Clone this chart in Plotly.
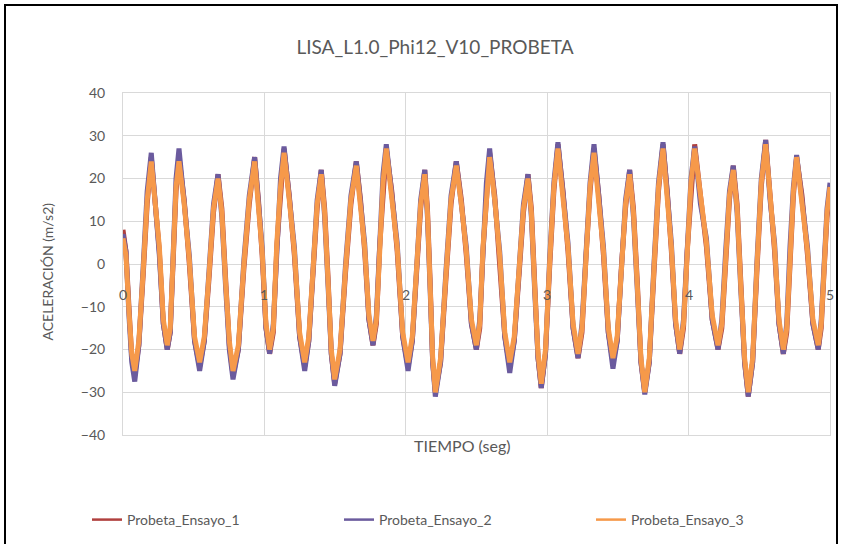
import plotly.graph_objects as go

titulo = "LISA_L1.0_Phi12_V10_PROBETA"
eje_x_titulo = "TIEMPO (seg)"
eje_y_titulo = "ACELERACIÓN (m/s2)"
series_nombres = ["Probeta_Ensayo_1", "Probeta_Ensayo_2", "Probeta_Ensayo_3"]
x_ticks = [0, 1, 2, 3, 4, 5]
x_tick_labels = ["0", "1", "2", "3", "4", "5"]
y_ticks = [-40, -30, -20, -10, 0, 10, 20, 30, 40]

tiempo = [
    0.000, 0.021, 0.042, 0.062, 0.083, 0.112, 0.142, 0.171,
    0.200, 0.228, 0.257, 0.285, 0.313, 0.334, 0.355, 0.375,
    0.396, 0.433, 0.469, 0.506, 0.542, 0.575, 0.607, 0.640,
    0.672, 0.699, 0.725, 0.752, 0.778, 0.816, 0.855, 0.893,
    0.931, 0.958, 0.984, 1.011, 1.037, 1.063, 1.088, 1.114,
    1.139, 1.176, 1.212, 1.249, 1.285, 1.314, 1.344, 1.373,
    1.402, 1.426, 1.450, 1.473, 1.497, 1.535, 1.574, 1.612,
    1.650, 1.680, 1.709, 1.739, 1.768, 1.792, 1.815, 1.839,
    1.862, 1.901, 1.939, 1.978, 2.016, 2.046, 2.075, 2.105,
    2.134, 2.153, 2.172, 2.190, 2.209, 2.246, 2.283, 2.320,
    2.357, 2.393, 2.428, 2.464, 2.499, 2.523, 2.546, 2.570,
    2.593, 2.629, 2.664, 2.700, 2.735, 2.767, 2.800, 2.832,
    2.864, 2.888, 2.911, 2.935, 2.958, 2.988, 3.017, 3.047,
    3.076, 3.112, 3.147, 3.183, 3.218, 3.246, 3.275, 3.303,
    3.331, 3.365, 3.398, 3.432, 3.465, 3.495, 3.524, 3.554,
    3.583, 3.610, 3.637, 3.663, 3.690, 3.722, 3.755, 3.787,
    3.819, 3.849, 3.878, 3.908, 3.937, 3.964, 3.990, 4.017,
    4.043, 4.084, 4.126, 4.167, 4.208, 4.235, 4.262, 4.289,
    4.316, 4.343, 4.369, 4.396, 4.422, 4.453, 4.484, 4.514,
    4.545, 4.576, 4.608, 4.639, 4.670, 4.694, 4.717, 4.741,
    4.764, 4.802, 4.841, 4.879, 4.917, 4.938, 4.959, 4.979,
    5.000,
]

ensayo_1 = [
    8, 3, -10, -22, -26, -19, -3, 14,
    25, 14, 3, -14, -20, -16, 3, 17,
    25, 15, 0, -18, -24, -18, -4, 12,
    21, 13, -3, -19, -26, -20, -1, 14,
    25, 15, 2, -15, -21, -16, 4, 17,
    27, 16, 2, -17, -24, -18, -3, 13,
    22, 13, -3, -21, -28, -21, -2, 14,
    24, 15, 3, -13, -19, -14, 4, 18,
    27, 17, 3, -17, -24, -18, -3, 13,
    22, 13, -4, -23, -30, -23, -4, 14,
    24, 15, 2, -14, -20, -15, 3, 16,
    26, 16, 1, -17, -24, -18, -3, 12,
    21, 13, -4, -22, -29, -21, -1, 17,
    28, 17, 3, -15, -22, -16, 2, 17,
    27, 16, 2, -16, -23, -18, -1, 13,
    22, 13, -4, -23, -30, -23, -2, 17,
    28, 17, 3, -14, -21, -15, 3, 18,
    28, 16, 4, -13, -20, -15, 1, 15,
    23, 14, -4, -23, -31, -23, -1, 18,
    29, 17, 3, -14, -21, -16, 2, 16,
    25, 16, 2, -14, -20, -15, -1, 11,
    17,
]

ensayo_2 = [
    7, 3, -12, -23, -27.5, -19, -1, 17,
    26, 15, 2, -14, -20, -16, 5, 20,
    27, 13, 2, -18, -25, -18, -2, 14,
    21, 11, -5, -20, -27, -20, 1, 16,
    25, 13, 4, -15, -21, -14, 6, 20,
    27.5, 14, 4, -17, -25, -18, -1, 15,
    22, 11, -5, -21, -28.5, -21, 0, 16,
    24, 13, 5, -13, -19, -12, 6, 21,
    28, 15, 5, -17, -25, -18, -1, 15,
    22, 11, -6, -23, -31, -23, -2, 16,
    24, 13, 4, -14, -20, -13, 5, 19,
    27, 14, 3, -17, -25.5, -18, -1, 14,
    21, 11, -6, -22, -29, -21, 1, 19,
    28.5, 15, 5, -15, -22, -14, 4, 19,
    28, 14, 4, -16, -24.5, -18, 1, 15,
    22, 11, -6, -23, -30.5, -23, 0, 19,
    28.5, 15, 5, -14, -21, -13, 5, 20,
    27.5, 14, 6, -13, -20, -13, 3, 17,
    23, 12, -6, -23, -31, -23, 1, 20,
    29, 15, 5, -14, -21, -14, 4, 18,
    25.5, 14, 4, -14, -20, -13, 1, 13,
    19,
]

ensayo_3 = [
    6, 2, -11, -21, -25, -18, -2, 15,
    24, 13, 4, -13, -19, -15, 4, 18,
    24, 14, 1, -17, -23, -17, -3, 13,
    20, 12, -4, -18, -25, -19, 0, 15,
    24, 14, 3, -14, -20, -15, 5, 18,
    26, 15, 3, -16, -23, -17, -2, 14,
    21, 12, -4, -20, -27, -20, -1, 15,
    23, 14, 4, -12, -18, -13, 5, 19,
    27, 16, 4, -16, -23, -17, -2, 14,
    21, 12, -5, -22, -30, -22, -3, 15,
    23, 14, 3, -13, -19, -14, 4, 17,
    25, 15, 2, -16, -23, -17, -2, 13,
    20, 12, -5, -21, -28, -20, 0, 18,
    27, 16, 4, -14, -21, -15, 3, 18,
    26, 15, 3, -15, -22, -17, 0, 14,
    21, 12, -5, -22, -30, -22, -1, 18,
    27, 16, 4, -13, -20, -14, 4, 19,
    27, 15, 5, -12, -19, -14, 2, 16,
    22, 13, -5, -22, -30, -22, 0, 19,
    28, 16, 4, -13, -20, -15, 3, 17,
    25, 15, 3, -13, -19, -14, 0, 12,
    18,
]

colores = ["#B0403E", "#6B5B9E", "#F6994A"]
valores = [ensayo_1, ensayo_2, ensayo_3]

fig = go.Figure()
for nombre, vals, col in zip(series_nombres, valores, colores):
    fig.add_trace(go.Scatter(
        x=tiempo, y=vals, mode="lines", name=nombre, legendgroup=nombre,
        showlegend=False, line=dict(color=col, width=5),
    ))
# legend-only entries with thinner sample lines (no data drawn)
for nombre, col in zip(series_nombres, colores):
    fig.add_trace(go.Scatter(
        x=[None], y=[None], mode="lines", name=nombre, legendgroup=nombre,
        showlegend=True, line=dict(color=col, width=2.5),
    ))

W, H = 843, 544
L, R, T, B = 123, 13, 93, 109
pw, ph = W - L - R, H - T - B

def px_x(p):
    return (p - L) / pw

def px_y(p):
    return (H - B - p) / ph

grid = "#D9D9D9"
txt = "#595959"
fuente = "Lato"

fig.update_layout(
    width=W, height=H,
    margin=dict(l=L, r=R, t=T, b=B, autoexpand=False),
    paper_bgcolor="white", plot_bgcolor="white",
    font=dict(family=fuente, color=txt, size=14),
    title=dict(text=titulo, x=435 / W, xanchor="center", y=1 - 47 / H,
               yanchor="middle", font=dict(size=19, color=txt, family=fuente)),
    showlegend=True,
    legend=dict(orientation="h", x=px_x(87), xanchor="left", y=px_y(520),
                yanchor="middle", entrywidth=207, entrywidthmode="pixels",
                bgcolor="rgba(0,0,0,0)",
                font=dict(size=14, color=txt), tracegroupgap=0),
    xaxis=dict(range=[0, 5], tickvals=x_ticks, showticklabels=False,
               showgrid=True, gridcolor=grid, gridwidth=1, zeroline=False,
               showline=True, linecolor=grid, mirror=True),
    yaxis=dict(range=[-40, 40], tickvals=y_ticks, showgrid=True,
               gridcolor=grid, gridwidth=1, zeroline=False,
               showline=True, linecolor=grid, mirror=True,
               ticks="outside", ticklen=14, tickcolor="rgba(0,0,0,0)",
               tickfont=dict(size=14, color=txt)),
)

annotations = []
for xv, lab in zip(x_ticks, x_tick_labels):
    annotations.append(dict(x=xv, y=0, xref="x", yref="y", text=lab,
                            showarrow=False, yshift=-30,
                            font=dict(size=14, color=txt)))
annotations.append(dict(x=px_x(462), y=px_y(457), xref="paper", yref="paper",
                        text=eje_x_titulo, showarrow=False,
                        font=dict(size=16, color=txt)))
annotations.append(dict(x=px_x(36), y=px_y(272), xref="paper", yref="paper",
                        text=eje_y_titulo, showarrow=False, textangle=-90,
                        font=dict(size=14, color=txt)))
fig.update_layout(annotations=annotations)

fig.add_shape(type="rect", xref="paper", yref="paper",
              x0=px_x(5), x1=px_x(837), y0=px_y(570), y1=px_y(5),
              line=dict(color="black", width=2), fillcolor="rgba(0,0,0,0)",
              layer="below")

fig.write_html("out.html")
